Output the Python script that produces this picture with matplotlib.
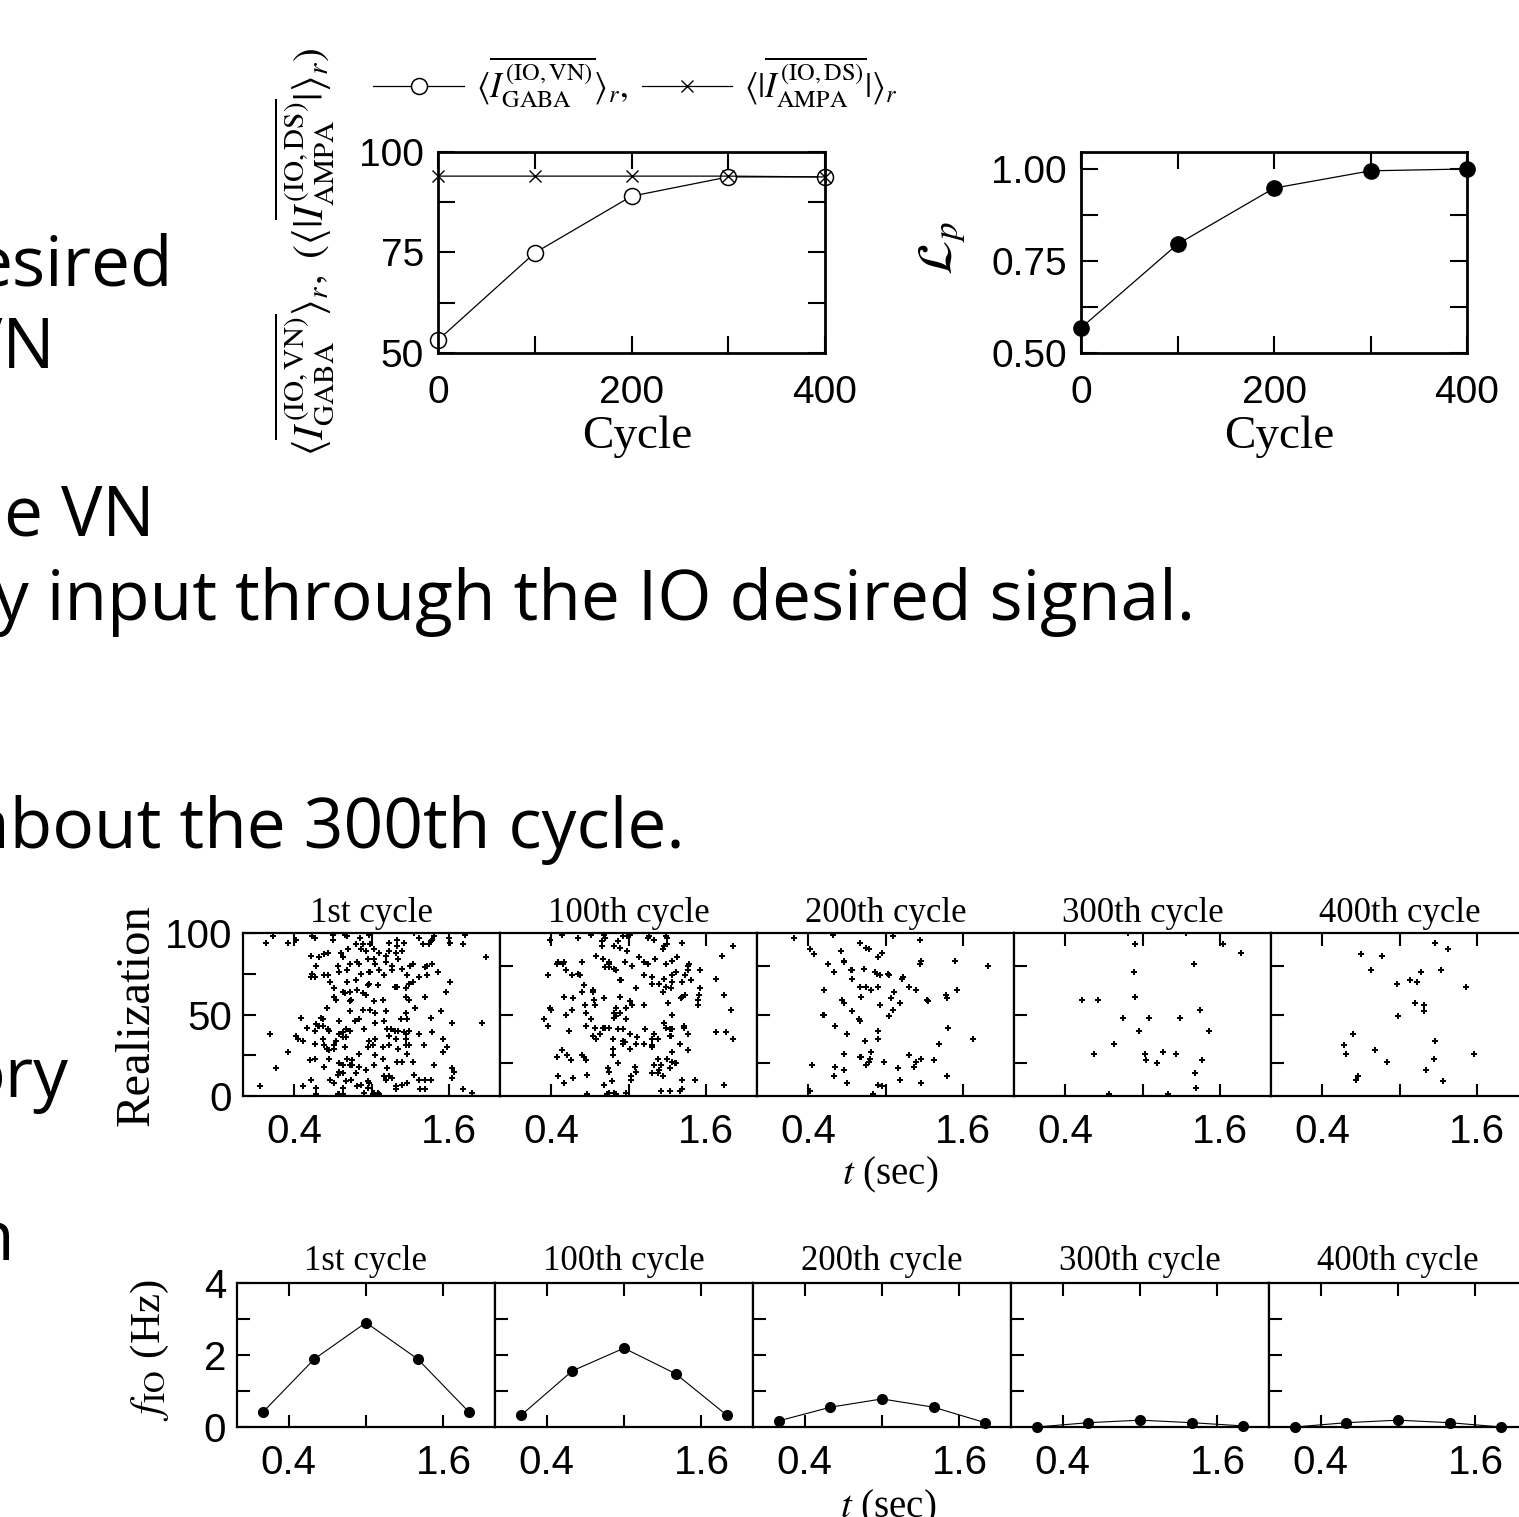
import matplotlib
matplotlib.use('Agg')
import matplotlib.pyplot as plt

plt.rcParams['font.family'] = 'Liberation Sans'
plt.rcParams['mathtext.fontset'] = 'stix'

W, H = 1519, 1517

# ---- top panels: learning progress vs cycle
cycles = [0, 100, 200, 300, 400]
gaba_vn = [53.2, 74.9, 89.0, 93.8, 93.8]
ampa_ds = [94.0, 94.0, 94.0, 94.0, 93.8]
lp = [0.568, 0.795, 0.947, 0.994, 0.999]

# ---- bottom panels
panel_titles = ['1st cycle', '100th cycle', '200th cycle', '300th cycle', '400th cycle']
bin_t = [0.2, 0.6, 1.0, 1.4, 1.8]
f_io = [[0.41, 1.89, 2.90, 1.89, 0.41],
        [0.32, 1.56, 2.19, 1.48, 0.32],
        [0.17, 0.55, 0.78, 0.55, 0.12],
        [0.00, 0.12, 0.19, 0.12, 0.03],
        [0.00, 0.12, 0.19, 0.12, 0.00]]

# raster spikes (t in sec, realization index)
spikes_1st = [
    (0.23,98),(0.18,94),(0.35,94),(0.41,96),(0.54,98),(0.56,97),(0.70,99),(0.70,96),(0.79,99),(0.81,98),
    (0.91,97),(0.88,93),(0.98,99),(0.99,93),(0.93,93),(1.14,94),(1.20,96),(1.20,92),(1.25,94),(1.33,100),
    (1.37,97),(1.40,93),(1.46,95),(1.49,98),(1.47,96),(1.45,93),(1.60,97),(1.61,94),(1.71,93),(1.73,99),
    (0.53,86),(0.59,85),(0.63,87),(0.66,88),(0.76,88),(0.82,90),(0.92,90),(0.96,89),(1.02,90),(1.06,88),
    (1.11,86),(1.14,89),(1.19,88),(1.24,89),(1.89,85),
    (0.57,80),(0.74,80),(0.78,85),(0.83,81),(0.89,82),(0.90,81),(0.97,84),(1.02,84),(1.03,81),(1.11,82),
    (1.16,80),(1.21,84),(1.32,81),(1.30,80),(1.42,79),(1.43,80),(1.47,81),
    (0.54,75),(0.53,73),(0.56,73),(0.63,74),(0.66,74),(0.75,76),(0.81,77),(0.92,75),(0.98,76),(0.99,76),
    (1.06,77),(1.10,74),(1.16,77),(1.24,78),(1.28,74),(1.37,73),(1.43,74),(1.52,76),
    (0.68,70),(0.71,66),(0.81,70),(0.88,71),(0.98,69),(0.97,68),(1.05,68),(1.18,67),(1.20,67),(1.27,66),
    (1.29,69),(1.32,70),(1.61,70),
    (0.79,63),(0.78,64),(0.83,64),(0.89,65),(0.93,63),(0.96,62),(0.71,61),(0.72,59),(0.83,58),(0.84,59),
    (1.02,58),(1.09,59),(1.27,61),(1.29,59),(1.42,61),(1.58,64),
    (0.65,54),(0.83,52),(0.93,53),(0.99,53),(1.03,51),(1.11,52),(1.27,51),(1.34,54),(1.54,52),(0.45,48),
    (0.61,48),(0.62,47),(0.75,46),(0.87,46),(0.90,47),(1.03,45),(1.10,46),(1.23,47),(1.28,47),(1.46,48),
    (1.86,45),(1.63,45),
    (0.57,44),(0.58,43),(0.59,43),(0.62,43),(0.50,42),(0.56,40),(0.66,41),(0.67,40),(0.80,41),(0.83,40),
    (0.78,39),(0.75,38),(0.94,41),(1.12,41),(1.15,41),(1.18,40),(1.21,40),(1.25,39),(1.29,40),(1.27,38),
    (1.37,38),(1.47,39),
    (0.21,38),(0.41,37),(0.43,35),(0.47,34),(0.56,32),(0.62,35),(0.78,36),(0.80,36),(0.72,34),(0.98,34),
    (1.03,35),(1.14,37),(1.19,35),(1.27,35),(1.56,35),
    (0.63,31),(0.65,29),(0.71,31),(0.71,29),(0.79,30),(1.01,31),(0.97,30),(1.09,30),(1.14,31),(1.21,29),
    (1.27,31),(1.29,31),(1.41,31),(1.59,30),(1.56,27),
    (0.35,27),(0.67,28),(0.90,26),(1.03,25),(1.28,26),
    (0.52,22),(0.56,23),(0.67,23),(0.81,23),(0.85,22),(1.09,23),(1.20,21),(1.24,21),(1.32,21),(0.75,20),
    (0.78,19),(0.83,19),(0.85,19),(1.02,19),(0.63,18),(0.90,18),(1.12,17),(1.49,19),(0.26,17),(1.63,17),
    (1.64,15),(0.96,16),(0.75,15),(0.78,14),(0.88,14),(0.74,13),
    (1.10,12),(1.14,12),(1.16,11),(1.11,10),(1.33,13),(0.53,10),(0.68,10),(0.84,10),(0.97,9),(0.98,8),
    (0.80,9),(1.42,10),(1.37,10),(1.46,10),(1.63,11),(0.92,7),(0.71,8),(0.57,5),(0.47,6),(0.13,6),
    (0.78,5),(0.89,6),(1.19,6),(1.24,7),(1.28,8),(1.38,4),(1.42,4),(1.71,4),
    (0.57,1),(0.74,1),(0.75,1),(0.78,1),(0.94,2),(1.01,1),(1.02,2),(1.05,2),(1.06,1),(1.19,4),
    (1.78,2),(0.97,5)]

spikes_100th = [
    (0.39,96),(0.48,99),(0.61,97),(0.71,99),(0.79,95),(0.82,97),(0.81,99),(0.92,95),(0.96,98),(0.99,98),
    (1.01,99),(1.15,97),(1.16,98),(1.20,96),(1.29,98),(1.30,97),(1.42,94),
    (0.79,92),(0.89,92),(0.93,91),(0.99,89),(1.27,90),(1.28,92),(1.30,93),(1.81,92),(1.73,86),
    (0.75,86),(0.80,84),(0.85,82),(0.85,81),(0.97,82),(1.03,80),(1.08,85),(1.12,82),(1.15,81),(1.21,84),
    (1.29,81),(1.34,83),(1.38,85),(1.46,80),(1.47,81),(0.44,81),(0.45,82),(0.49,81),(0.50,82),(0.64,82),
    (0.51,77),(0.37,74),(0.56,74),(0.61,75),(0.62,74),(0.82,79),(0.85,79),(0.89,78),(0.90,77),(1.56,77),
    (1.46,77),(1.37,76),
    (0.93,71),(0.94,71),(1.12,74),(1.18,73),(1.18,69),(1.24,69),(1.28,72),(1.29,67),(1.33,66),(1.34,70),
    (1.34,74),(1.42,70),(1.44,74),(1.49,71),(1.68,72),(0.65,68),(0.64,64),(0.72,65),(0.72,64),(1.06,66),
    (1.27,64),
    (0.50,61),(0.57,60),(0.73,59),(0.81,60),(0.93,61),(1.01,58),(1.03,56),(1.12,56),(1.31,57),(1.41,60),
    (1.42,61),(1.44,62),(1.54,59),(1.54,56),(1.55,62),(1.56,66),(1.74,62),
    (0.39,54),(0.40,53),(0.56,53),(0.66,56),(0.74,56),(0.90,54),(0.89,51),(0.90,49),(0.93,51),(0.98,54),
    (0.67,51),(0.51,50),(0.34,47),(0.37,43),(0.71,47),(0.89,48),(0.98,47),(1.28,45),(1.34,50),(1.80,53),
    (0.67,43),(0.74,42),(0.80,42),(0.82,42),(0.85,42),(0.92,41),(0.96,41),(1.01,38),(1.13,41),(1.20,38),
    (1.29,42),(1.32,41),(1.34,41),(1.43,43),(1.43,42),(1.46,38),(0.54,40),(0.78,38),(0.72,37),(0.75,35),
    (0.88,35),(0.96,34),(0.97,33),(1.07,36),(1.18,35),(1.23,35),(1.32,37),(1.33,37),(1.68,39),(1.76,39),
    (1.81,35),
    (0.48,28),(0.44,24),(0.52,25),(0.55,22),(0.64,25),(0.65,24),(0.67,22),(0.88,29),(0.88,25),(0.96,32),
    (1.01,29),(1.06,32),(1.12,32),(1.18,31),(1.18,30),(1.34,27),(1.40,32),(1.46,28),
    (0.84,17),(0.85,15),(0.92,20),(1.05,18),(1.06,15),(1.20,19),(1.23,23),(1.24,16),(1.25,19),(1.30,23),
    (1.34,21),(1.36,20),(1.37,20),(1.32,17),(1.23,14),(1.18,14),(1.27,12),(1.02,12),(1.02,10),(0.45,12),
    (0.50,8),(0.57,11),(0.68,13),(0.81,7),(0.87,9),(1.42,10),(1.52,10),(1.74,7),
    (0.68,1),(0.83,1),(0.85,2),(0.89,2),(0.90,1),(0.98,2),(1.25,3),(1.32,3),(1.40,3),(1.42,4)]

spikes_200th = [
    (0.29,97),(0.59,99),(0.41,90),(0.44,87),(0.65,89),(0.80,94),(0.85,91),(0.87,90),(0.94,85),(0.97,88),
    (1.06,98),(1.27,96),(1.28,83),(1.27,81),(0.55,81),(0.68,82),(0.68,83),(0.60,76),(0.73,77),(0.74,77),
    (0.83,78),(0.92,76),(0.93,75),(0.96,74),(1.02,75),(1.03,74),(1.14,73),(1.13,72),(0.74,72),(1.54,83),
    (1.80,80),(0.52,65),(0.80,67),(0.85,67),(0.89,65),(0.94,67),(1.07,64),(1.18,67),(1.24,65),(0.81,61),
    (0.66,59),(0.68,57),(1.04,60),(1.11,57),(1.32,59),(1.33,58),(1.47,62),(1.48,60),(1.56,65),(0.96,56),
    (0.74,52),(1.06,53),(1.03,49),(0.51,50),(0.52,50),(0.79,47),(0.80,46),(0.61,43),(0.70,38),(0.84,34),
    (0.94,40),(0.94,35),(1.49,42),(1.42,32),(1.68,35),(0.68,26),(0.80,24),(0.81,24),(0.89,27),(0.88,23),
    (0.87,21),(0.85,19),(0.99,21),(1.18,25),(1.24,21),(1.22,18),(1.28,23),(1.38,22),(1.10,17),(0.43,19),
    (0.61,18),(0.68,16),(0.60,12),(0.70,8),(1.11,10),(1.28,8),(1.48,12),(0.94,7),(0.97,6),(0.90,1),
    (0.41,3)]

spikes_300th = [
    (0.89,100),(0.94,93),(1.34,100),(1.63,93),(1.77,88),(1.40,81),(0.93,76),(0.53,59),(0.65,59),(0.94,61),
    (1.45,53),(0.85,48),(1.05,48),(1.29,48),(0.97,40),(1.52,40),(0.78,32),(0.62,26),(1.02,26),(1.03,22),
    (1.16,27),(1.26,26),(1.46,22),(1.11,20),(1.41,14),(1.42,5),(0.74,1),(1.20,1)]

spikes_400th = [
    (1.28,94),(1.38,90),(0.70,87),(0.86,86),(0.78,77),(1.17,76),(1.32,77),(0.98,69),(1.08,71),(1.14,70),
    (1.52,67),(1.12,57),(1.19,56),(1.19,52),(0.99,49),(0.64,38),(0.57,31),(0.58,26),(0.81,28),(1.28,34),
    (0.90,21),(1.27,23),(1.58,26),(1.21,16),(0.68,12),(0.66,10),(1.34,9)]

rasters = [spikes_1st, spikes_100th, spikes_200th, spikes_300th, spikes_400th]


def px_axes(left, top, w, h):
    return fig.add_axes([left / W, 1 - (top + h) / H, w / W, h / H])


def fig_text(x, y, s, **kw):
    fig.text(x / W, 1 - y / H, s, **kw)


def frame(ax, lw):
    for sp in ax.spines.values():
        sp.set_linewidth(lw)


fig = plt.figure(figsize=(W / 100, H / 100), dpi=100)

# slide text behind the figure (cut at left edge, as in the screenshot)
slide_font = dict(family='Open Sans', fontsize=50, ha='right', va='baseline')
fig_text(173, 285, 'esired', **slide_font)
fig_text(55, 368, 'VN', **slide_font)
fig_text(155, 535, 'e VN', **slide_font)
fig_text(1195, 620, 'y input through the IO desired signal.', **slide_font)
fig_text(685, 848, 'about the 300th cycle.', **slide_font)
fig_text(68, 1097, 'ory', **slide_font)
fig_text(15, 1260, 'n', **slide_font)

serif = 'Liberation Serif'

# ---- top-left: currents
ax1 = px_axes(438, 152, 387, 201)
l_gaba, = ax1.plot(cycles, gaba_vn, color='black', lw=0.9, marker='o', ms=11.5,
                   mfc='white', mec='black', mew=1.1, clip_on=False)
l_ampa, = ax1.plot(cycles, ampa_ds, color='black', lw=0.9, marker='x', ms=9, mew=1.0,
                   clip_on=False)
ax1.set_xlim(0, 400)
ax1.set_ylim(50, 100)
ax1.set_xticks([0, 100, 200, 300, 400], ['0', '', '200', '', '400'])
ax1.set_yticks([50, 62.5, 75, 87.5, 100], ['50', '', '75', '', '100'])
ax1.tick_params(direction='in', length=12, width=1.5, top=True, right=True,
                labelsize=28, pad=10)
ax1.tick_params(axis='x', pad=16)
frame(ax1, 2)
fig_text(637, 437, 'Cycle', family=serif, fontsize=34, ha='center', va='center')
fig_text(305, 252,
         r'$\langle\overline{I^{\rm (IO,VN)}_{\rm GABA}}\rangle_r,\ (\langle|\overline{I^{\rm (IO,DS)}_{\rm AMPA}}|\rangle_r)$',
         fontsize=30, rotation=90, ha='center', va='center')
fig.legend([l_gaba, l_ampa],
           [r'$\langle\overline{I^{\rm (IO,VN)}_{\rm GABA}}\rangle_r,$',
            r'$\langle|\overline{I^{\rm (IO,DS)}_{\rm AMPA}}|\rangle_r$'],
           loc='center left', bbox_to_anchor=(356 / W, 1 - 82 / H), ncol=2,
           frameon=False, fontsize=25, handlelength=2.6, handletextpad=0.35,
           columnspacing=0.4, borderpad=0)

# ---- top-right: L_p
ax2 = px_axes(1081, 152, 386, 201)
ax2.plot(cycles, lp, color='black', lw=0.9, marker='o', ms=11, mfc='black', mec='black',
         clip_on=False)
ax2.set_xlim(0, 400)
ax2.set_ylim(0.5, 1.045)
ax2.set_xticks([0, 100, 200, 300, 400], ['0', '', '200', '', '400'])
ax2.set_yticks([0.5, 0.625, 0.75, 0.875, 1.0], ['0.50', '', '0.75', '', '1.00'])
ax2.tick_params(direction='in', length=12, width=1.5, top=True, right=True,
                labelsize=28, pad=10)
ax2.tick_params(axis='x', pad=16)
frame(ax2, 2)
fig_text(1279, 437, 'Cycle', family=serif, fontsize=34, ha='center', va='center')
fig_text(943, 248, r'$\mathcal{L}_p$', fontsize=36, rotation=90, ha='center', va='center')

# ---- raster plots
for i, spikes in enumerate(rasters):
    ax = px_axes(243 + 257 * i, 933, 257, 163)
    ts = [s[0] for s in spikes]
    rs = [s[1] for s in spikes]
    ax.plot(ts, rs, linestyle='none', marker='P', ms=4.5, color='black', mew=0)
    ax.set_xlim(0, 2)
    ax.set_ylim(0, 100)
    ax.set_xticks([0.4, 1.0, 1.6], ['0.4', '', '1.6'])
    if i == 0:
        ax.set_yticks([0, 25, 50, 75, 100], ['0', '', '50', '', '100'])
    else:
        ax.set_yticks([20, 50, 80], ['', '', ''])
    ax.tick_params(direction='in', length=9, width=1.5, top=True, labelsize=29, pad=12)
    ax.tick_params(axis='y', pad=8)
    frame(ax, 1.6)
    ax.set_title(panel_titles[i], family=serif, fontsize=25, pad=8)
fig_text(137, 1015, 'Realization', family=serif, fontsize=35, rotation=90,
         ha='center', va='center')
fig_text(890, 1175, r'$t$ (sec)', family=serif, fontsize=28, ha='center', va='center')

# ---- IO firing rates
for i in range(5):
    ax = px_axes(237 + 258 * i, 1283, 258, 144)
    ax.plot(bin_t, f_io[i], color='black', lw=0.8, marker='o', ms=7, clip_on=False)
    ax.set_xlim(0, 2)
    ax.set_ylim(0, 4)
    ax.set_xticks([0.4, 1.0, 1.6], ['0.4', '', '1.6'])
    if i == 0:
        ax.set_yticks([0, 1, 2, 3, 4], ['0', '', '2', '', '4'])
    else:
        ax.set_yticks([1, 2, 3], ['', '', ''])
    ax.tick_params(direction='in', length=9, width=1.5, top=True, labelsize=29, pad=12)
    ax.tick_params(axis='y', pad=8)
    frame(ax, 1.6)
    ax.set_title(panel_titles[i], family=serif, fontsize=25, pad=9)
fig_text(150, 1350, r'$f_{\rm IO}$ (Hz)', family=serif, fontsize=31, rotation=90,
         ha='center', va='center')
fig_text(888, 1508, r'$t$ (sec)', family=serif, fontsize=28, ha='center', va='center')

fig.savefig('out.png', dpi=100)
